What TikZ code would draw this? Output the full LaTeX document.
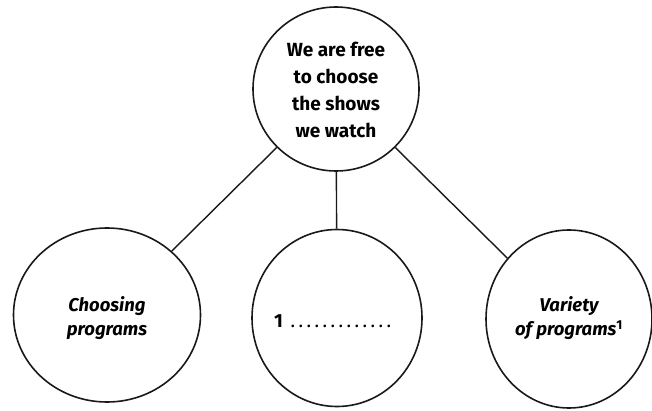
\documentclass[tikz,border=0pt]{standalone}
\usepackage{fontspec}
\setmainfont{Fira Sans}
\usetikzlibrary{shapes.geometric}
\newcommand{\onedot}{\makebox[8pt]{\mdseries.}}
\begin{document}
\begin{tikzpicture}[x=1pt,y=-1pt,
  bubble/.style={draw=black!90, line width=1.6pt, ellipse, inner sep=0pt},
  conn/.style={draw=black!90, line width=1.4pt},
  toptext/.style={font=\fontsize{19}{27}\selectfont\bfseries, align=center},
  lowtext/.style={font=\fontsize{18.5}{24}\selectfont\bfseries\itshape, align=center}]
\useasboundingbox (0,0) rectangle (652,411);
\begin{scope}
\clip (0,0) rectangle (652,411);
\node[bubble, minimum width=166pt, minimum height=164pt] (top) at (336,89) {};
\node[bubble, minimum width=187pt, minimum height=174pt] (left) at (107,315) {};
\node[bubble, minimum width=170pt, minimum height=177pt] (mid) at (337,318) {};
\node[bubble, minimum width=166pt, minimum height=178pt] (right) at (569,319) {};
\end{scope}
\node[toptext] (toplabel) at (336,90) {We are free\\to choose\\the shows\\we watch};
\node[lowtext] (leftlabel) at (107,318) {Choosing\\programs};
\node[lowtext] (rightlabel) at (569,318) {Variety\\of programs\textsuperscript{\upshape 1}};
\node[font=\fontsize{19}{20}\selectfont\bfseries, anchor=base west, inner sep=0pt] (blank) at (274,327) {1\hspace{6pt}\onedot\onedot\onedot\onedot\onedot\onedot\onedot\onedot\onedot\onedot\onedot\onedot\onedot};
\draw[conn] (top) -- (left);
\draw[conn] (top) -- (mid);
\draw[conn] (top) -- (right);
\end{tikzpicture}
\end{document}
